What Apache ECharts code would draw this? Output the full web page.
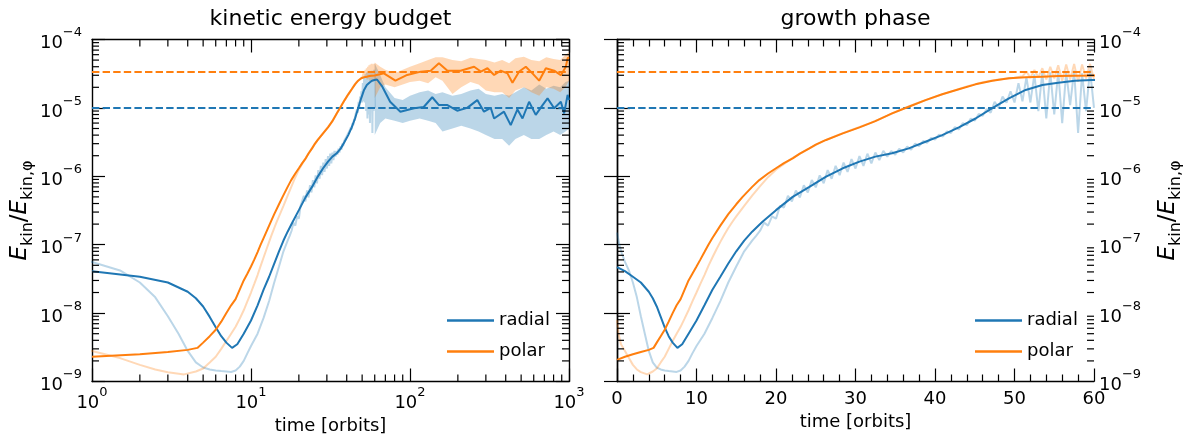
<!DOCTYPE html>
<html><head><meta charset="utf-8">
<script src="https://cdn.jsdelivr.net/npm/echarts@6/dist/echarts.min.js"></script>
<style>html,body{margin:0;padding:0;background:#fff}#c{width:1190px;height:441px}</style>
</head><body><div id="c"></div>
<script>
const FONT = 'DejaVu Sans';
const BLUE = '#1f77b4', ORANGE = '#ff7f0e';
const LBLUE = 'rgba(31,119,180,0.3)', LORANGE = 'rgba(255,127,14,0.3)';

// ---- smoothed radial (dark blue) ----
const tRadial = [0,1,2,3,4,4.5,5,5.5,6,6.5,7,7.6,8.2,9,10,11,12,13,14,15,16,17,18.3,20,22.1,24.2,26.3,28.4,30.5,32.5,34.6,36.7,38.8,40.9,43,45.1,47.2,49.3,51.4,53.5,55.5,57.6,59.7,62,67,75,87,106,122,138,152,172,198,229,265,292,322,338,390,430,474,510,561,618,682,733,807,889,932,980,1000];
const radial = [4.7e-8,4.1e-8,3.4e-8,2.8e-8,2.05e-8,1.65e-8,1.25e-8,8.8e-9,6.2e-9,4.6e-9,3.7e-9,3.1e-9,3.5e-9,5.0e-9,7.8e-9,1.3e-8,2.2e-8,3.4e-8,5.3e-8,8.0e-8,1.15e-7,1.55e-7,2.17e-7,3.2e-7,5.0e-7,7.0e-7,9.9e-7,1.31e-6,1.64e-6,1.94e-6,2.17e-6,2.56e-6,3.2e-6,4.0e-6,5.2e-6,7.0e-6,9.9e-6,1.38e-5,1.83e-5,2.16e-5,2.33e-5,2.5e-5,2.56e-5,2.6e-5,2.04e-5,1.23e-5,8.8e-6,9.9e-6,1.03e-5,1.43e-5,1.1e-5,1.1e-5,9.1e-6,1.0e-5,1.3e-5,8.8e-6,1.0e-5,7.0e-6,8.8e-6,5.6e-6,9.5e-6,7.0e-6,1.23e-5,7.9e-6,1.1e-5,1.38e-5,9.9e-6,1.23e-5,8.3e-6,1.55e-5,1.3e-5];

// ---- smoothed polar (dark orange) ----
const tPolar = [0,1,2,3,4,4.6,5,5.5,6,6.5,7,7.5,8,9,9.5,10,10.5,11,11.5,12,13,14,15,15.8,17,17.9,19,20,21,22.1,23,24.2,25,26.3,28.4,30.5,32.5,34.6,36.7,38.8,40.9,43,45.1,47.2,49.3,51.4,53.5,55.5,57.6,60,68.5,81,96,117,135,152,172,208,253,279,307,338,372,410,441,486,535,589,649,715,807,889,955,980,1000];
const polar = [2.07e-9,2.3e-9,2.5e-9,2.7e-9,2.9e-9,3.1e-9,3.7e-9,4.6e-9,5.7e-9,7.5e-9,1.0e-8,1.3e-8,1.6e-8,3.0e-8,3.8e-8,4.8e-8,6.1e-8,7.8e-8,1.0e-7,1.25e-7,1.9e-7,2.8e-7,3.9e-7,5.0e-7,7.0e-7,8.8e-7,1.1e-6,1.31e-6,1.56e-6,1.83e-6,2.15e-6,2.56e-6,2.9e-6,3.4e-6,4.25e-6,5.2e-6,6.4e-6,8.3e-6,1.04e-5,1.3e-5,1.58e-5,1.87e-5,2.21e-5,2.5e-5,2.71e-5,2.8e-5,2.86e-5,2.92e-5,2.95e-5,2.98e-5,3.2e-5,2.5e-5,3.03e-5,3.39e-5,3.5e-5,4.5e-5,3.5e-5,3.5e-5,4.0e-5,3.4e-5,3.8e-5,3.03e-5,3.5e-5,3.2e-5,2.33e-5,3.4e-5,4.0e-5,3.2e-5,2.5e-5,3.8e-5,3.5e-5,3.0e-5,4.0e-5,5.3e-5,5.5e-5];

// ---- raw radial (light blue), t <= 60 ----
const tRadialRaw = [0,0.3,0.6,1,1.5,2,2.5,3,3.5,4,4.5,5,5.5,6,6.5,7,7.5,8,8.5,9,9.5,10,11,12,13,14,15,16,17,17.5,18,
  18.5,19,19.5,20,20.5,21,21.5,22,22.5,23,23.5,24,24.5,25,25.5,26,26.5,27,27.5,28,28.5,29,29.5,30,30.5,31,31.5,32,32.5,33,33.5,34,34.5,35,35.5,36,36.5,37,37.5,38,38.5,39,39.5,40,40.5,41,41.5,42,42.5,43,43.5,44,44.5,45,45.5,46,46.5,47,47.5,48,48.5,49,49.5,50,50.5,51,51.5,52,52.5,53,53.5,54,54.5,55,55.5,56,56.5,57,57.5,58,58.5,59,59.5,60];
const radialRaw = [1.5e-7,1.0e-7,7.5e-8,5.6e-8,4.2e-8,2.8e-8,1.7e-8,9.0e-9,5.0e-9,2.8e-9,1.9e-9,1.6e-9,1.5e-9,1.45e-9,1.42e-9,1.4e-9,1.38e-9,1.45e-9,1.65e-9,2.0e-9,2.6e-9,3.3e-9,5.0e-9,8.5e-9,1.5e-8,2.8e-8,4.8e-8,8.0e-8,1.15e-7,1.35e-7,1.6e-7,
  2.1e-7,1.9e-7,2.6e-7,2.4e-7,3.7e-7,3.5e-7,5.2e-7,4.3e-7,6.2e-7,4.9e-7,7.4e-7,5.8e-7,8.8e-7,6.9e-7,1.03e-6,7.9e-7,1.23e-6,9.2e-7,1.42e-6,1.04e-6,1.59e-6,1.16e-6,1.78e-6,1.3e-6,1.97e-6,1.42e-6,2.14e-6,1.55e-6,2.23e-6,1.73e-6,2.35e-6,1.94e-6,2.34e-6,2.07e-6,2.53e-6,2.23e-6,2.73e-6,2.44e-6,3.01e-6,2.77e-6,3.28e-6,3.09e-6,3.65e-6,3.45e-6,4.08e-6,3.82e-6,4.55e-6,4.29e-6,5.25e-6,4.85e-6,6.0e-6,5.6e-6,6.97e-6,6.5e-6,8.15e-6,7.65e-6,9.65e-6,8.5e-6,1.23e-5,1.01e-5,1.46e-5,1.19e-5,1.75e-5,1.2e-5,2.3e-5,1.25e-5,2.8e-5,1.2e-5,3.1e-5,9e-6,3.3e-5,7e-6,3.3e-5,8e-6,3.4e-5,6e-6,3.3e-5,1.1e-5,3.5e-5,4.3e-6,3.2e-5,9e-6,3.6e-5,1.0e-5];

// ---- raw polar (light orange), t <= 60 ----
const tPolarRaw = [0,0.2,0.5,1,1.5,2,2.5,3,3.8,4.5,5,5.5,6,6.5,7,7.5,8,8.5,9,9.5,10,10.5,11,11.5,12,12.5,13,13.5,14,14.5,15,16,17,18,19,20,22,24,26,28,30,32,34,36,38,40,42,44,46,48,50,51,51.5,52,52.5,53,53.5,54,54.5,55,55.5,56,56.5,57,57.5,58,58.5,59,59.5,60];
const polarRaw = [8e-9,5e-9,3.5e-9,2.8e-9,2.2e-9,1.75e-9,1.5e-9,1.37e-9,1.27e-9,1.4e-9,1.55e-9,1.9e-9,2.3e-9,3.0e-9,3.9e-9,5.0e-9,6.3e-9,8.3e-9,1.1e-8,1.5e-8,2.0e-8,2.7e-8,3.6e-8,4.9e-8,6.5e-8,8.5e-8,1.1e-7,1.4e-7,1.75e-7,2.15e-7,2.6e-7,3.7e-7,5.2e-7,7.2e-7,9.7e-7,1.25e-6,1.83e-6,2.5e-6,3.3e-6,4.1e-6,5.0e-6,6.1e-6,7.7e-6,9.8e-6,1.2e-5,1.45e-5,1.73e-5,2.05e-5,2.38e-5,2.6e-5,2.75e-5,2.9e-5,3.4e-5,2.75e-5,3.6e-5,2.8e-5,3.8e-5,2.6e-5,4.0e-5,2.7e-5,4.2e-5,2.5e-5,4.3e-5,2.6e-5,4.4e-5,2.4e-5,4.3e-5,2.7e-5,4.4e-5,2.6e-5];

// ---- raw envelopes beyond t = 60 (saturated phase) ----
const tBand = [60,65,70,80,90,100,115,130,145,160,185,210,240,270,300,340,380,420,460,520,580,650,720,800,880,950,1000];
const radialLo = [4e-6,6e-6,7e-6,6.5e-6,6e-6,6.5e-6,7e-6,6.5e-6,6e-6,4.5e-6,5e-6,5.5e-6,5e-6,4.5e-6,4e-6,3.5e-6,3.5e-6,2.8e-6,3.5e-6,4e-6,3.5e-6,3.5e-6,4e-6,4.5e-6,4e-6,4.5e-6,5e-6];
const radialHi = [4.5e-5,3e-5,2e-5,1.4e-5,1.3e-5,1.5e-5,1.7e-5,1.8e-5,1.6e-5,1.7e-5,1.5e-5,1.6e-5,1.8e-5,1.9e-5,1.6e-5,1.5e-5,1.6e-5,1.5e-5,1.7e-5,2e-5,1.8e-5,2.2e-5,1.9e-5,2.1e-5,2e-5,2.4e-5,2.5e-5];
const polarLo = [1.4e-5,2e-5,2.2e-5,2e-5,2.2e-5,2.4e-5,2.5e-5,2.3e-5,2.8e-5,2.5e-5,1.6e-5,2e-5,2.4e-5,2.2e-5,1.8e-5,1.7e-5,1.7e-5,1.4e-5,1.8e-5,2e-5,1.7e-5,1.5e-5,2e-5,1.9e-5,1.7e-5,2e-5,2.5e-5];
const polarHi = [4.6e-5,4e-5,3.6e-5,3.2e-5,3.6e-5,4e-5,4.5e-5,5e-5,5.5e-5,5.5e-5,5e-5,4.8e-5,5.4e-5,5.2e-5,5e-5,4.6e-5,5e-5,4.5e-5,5.3e-5,5.6e-5,5e-5,4.8e-5,5.5e-5,5.2e-5,5e-5,6e-5,6.5e-5];

// ---- reference levels ----
const radialRef = 1e-5;
const polarRef = 3.35e-5;

// ---- axis ranges / ticks ----
const xLogRange = [1, 1000];
const xLinRange = [0, 60];
const yRange = [1e-9, 1e-4];
const minorMult = [2,3,4,5,6,7,8,9];
const yDecades = [-9,-8,-7,-6,-5];
const xDecades = [0,1,2];
const minorY = [], minorXLog = [];
yDecades.forEach(d => minorMult.forEach(m => minorY.push(m * Math.pow(10, d))));
xDecades.forEach(d => minorMult.forEach(m => minorXLog.push(m * Math.pow(10, d))));

const seriesNames = ['radial', 'polar'];
const titles = ['kinetic energy budget', 'growth phase'];
const xName = 'time [orbits]';

function pairs(t, v, minT) {
  const out = [];
  for (let i = 0; i < t.length; i++) if (t[i] > minT) out.push([t[i], v[i]]);
  return out;
}
function supLabel(v) {
  const e = Math.round(Math.log10(v));
  return '{b|10}{s|' + (e < 0 ? '\u2212' + (-e) : e) + '}';
}
const supRich = {
  b: { fontFamily: FONT, fontSize: 18, color: '#000', lineHeight: 26, verticalAlign: 'bottom' },
  s: { fontFamily: FONT, fontSize: 13, color: '#000', lineHeight: 26, verticalAlign: 'top' }
};
const nameRich = {
  e: { fontFamily: FONT, fontSize: 23, fontStyle: 'italic', color: '#000', lineHeight: 32, verticalAlign: 'middle' },
  sub: { fontFamily: FONT, fontSize: 16, color: '#000', lineHeight: 32, verticalAlign: 'bottom' },
  sl: { fontFamily: FONT, fontSize: 23, color: '#000', lineHeight: 32, verticalAlign: 'middle' }
};
const yName = '{e|E}{sub|kin}{sl|/}{e|E}{sub|kin,\u03c6}';

const AX = { lineStyle: { color: '#000', width: 1.4 } };
const TICK = { show: true, inside: true, length: 13, lineStyle: { color: '#000', width: 1.2 } };
const NAMESTYLE = { fontFamily: FONT, fontSize: 18, color: '#000' };

function logX(grid, pos, labels) {
  return {
    gridIndex: grid, type: 'log', logBase: 10, min: xLogRange[0], max: xLogRange[1], position: pos,
    axisLine: Object.assign({ show: true }, AX), axisTick: TICK, splitLine: { show: false },
    axisLabel: labels ? { show: true, margin: 5, formatter: supLabel, rich: supRich } : { show: false },
    name: labels ? xName : '', nameLocation: 'middle', nameGap: 19, nameTextStyle: NAMESTYLE
  };
}
function linX(grid, pos, labels) {
  return {
    gridIndex: grid, type: 'value', min: xLinRange[0], max: xLinRange[1], interval: 10, position: pos,
    axisLine: Object.assign({ show: true }, AX), axisTick: TICK,
    minorTick: { show: true, splitNumber: 5, length: 7, lineStyle: { color: '#000', width: 1.2 } },
    splitLine: { show: false }, minorSplitLine: { show: false },
    axisLabel: labels ? { show: true, margin: 9, fontFamily: FONT, fontSize: 18, color: '#000' } : { show: false },
    name: labels ? xName : '', nameLocation: 'middle', nameGap: 19, nameTextStyle: NAMESTYLE
  };
}
function logY(grid, pos, labels) {
  return {
    gridIndex: grid, type: 'log', logBase: 10, min: yRange[0], max: yRange[1], position: pos,
    axisLine: Object.assign({ show: true }, AX), axisTick: TICK, splitLine: { show: false },
    axisLabel: labels ? { show: true, margin: pos === 'left' ? 10 : 5, formatter: supLabel, rich: supRich } : { show: false },
    name: labels ? yName : '', nameLocation: 'middle', nameRotate: 90, nameGap: pos === 'left' ? 56 : 58,
    nameTextStyle: { rich: nameRich }
  };
}

function tickSeries(xi, yi, vals, dir, ref) {
  return {
    type: 'custom', xAxisIndex: xi, yAxisIndex: yi, silent: true, clip: false, z: 10,
    data: vals.map(v => dir === 'x' ? [v, ref] : [ref, v]),
    renderItem: function (params, api) {
      const cs = params.coordSys;
      const st = { stroke: '#000', lineWidth: 1.2 };
      if (dir === 'x') {
        const p = api.coord([api.value(0), ref]);
        return { type: 'group', children: [
          { type: 'line', shape: { x1: p[0], y1: cs.y + cs.height, x2: p[0], y2: cs.y + cs.height - 7 }, style: st },
          { type: 'line', shape: { x1: p[0], y1: cs.y, x2: p[0], y2: cs.y + 7 }, style: st }
        ]};
      } else {
        const p = api.coord([ref, api.value(1)]);
        return { type: 'group', children: [
          { type: 'line', shape: { x1: cs.x, y1: p[1], x2: cs.x + 7, y2: p[1] }, style: st },
          { type: 'line', shape: { x1: cs.x + cs.width, y1: p[1], x2: cs.x + cs.width - 7, y2: p[1] }, style: st }
        ]};
      }
    }
  };
}

function bandSeries(xi, yi, t, lo, hi, fill) {
  return {
    type: 'custom', xAxisIndex: xi, yAxisIndex: yi, silent: true, z: 1,
    data: t.map((v, i) => [v, lo[i], hi[i]]),
    renderItem: function (params, api) {
      if (params.dataIndex !== 0) return null;
      const pts = [];
      for (let i = 0; i < t.length; i++) pts.push(api.coord([t[i], hi[i]]));
      for (let i = t.length - 1; i >= 0; i--) pts.push(api.coord([t[i], lo[i]]));
      return { type: 'polygon', shape: { points: pts }, style: { fill: fill } };
    }
  };
}

function lineSeries(name, xi, yi, data, color, z, dashed) {
  return {
    type: 'line', name: name, xAxisIndex: xi, yAxisIndex: yi, data: data,
    showSymbol: false, symbol: 'none', clip: true, z: z,
    lineStyle: { color: color, width: 2, type: dashed ? [7.4, 3.2] : 'solid' }, itemStyle: { color: color },
    emphasis: { disabled: true }, silent: true
  };
}

function panelSeries(xi, yi, minT, withBand, xr, xRef) {
  const out = [];
  if (withBand) {
    out.push(bandSeries(xi, yi, tBand, radialLo, radialHi, LBLUE));
    out.push(bandSeries(xi, yi, tBand, polarLo, polarHi, LORANGE));
  }
  out.push(lineSeries('radial raw', xi, yi, pairs(tRadialRaw, radialRaw, minT), LBLUE, 2));
  out.push(lineSeries('polar raw', xi, yi, pairs(tPolarRaw, polarRaw, minT), LORANGE, 2));
  out.push(lineSeries('radial ref', xi, yi, [[xr[0], radialRef], [xr[1], radialRef]], BLUE, 3, true));
  out.push(lineSeries('polar ref', xi, yi, [[xr[0], polarRef], [xr[1], polarRef]], ORANGE, 3, true));
  out.push(lineSeries(seriesNames[0], xi, yi, pairs(tRadial, radial, minT), BLUE, 4));
  out.push(lineSeries(seriesNames[1], xi, yi, pairs(tPolar, polar, minT), ORANGE, 4));
  out.push(tickSeries(xi, yi, minorY, 'y', xRef));
  return out;
}

const series = [].concat(
  panelSeries(0, 0, 0, true, xLogRange, 10),
  [tickSeries(0, 0, minorXLog, 'x', 1e-6)],
  panelSeries(2, 2, -1, false, xLinRange, 30)
);

function legendAt(left) {
  return {
    data: seriesNames, orient: 'vertical', left: left, top: 305, icon: 'rect',
    itemWidth: 47, itemHeight: 2.5, itemGap: 10, selectedMode: false,
    textStyle: { fontFamily: FONT, fontSize: 18, color: '#000', lineHeight: 21 }
  };
}

const chart = echarts.init(document.getElementById('c'), null, { renderer: 'canvas' });
chart.setOption({
  animation: false,
  backgroundColor: '#fff',
  grid: [
    { left: 92, top: 39.5, width: 477, height: 342, outerBoundsMode: 'none' },
    { left: 617, top: 39.5, width: 477, height: 342, outerBoundsMode: 'none' }
  ],
  xAxis: [logX(0, 'bottom', true), logX(0, 'top', false), linX(1, 'bottom', true), linX(1, 'top', false)],
  yAxis: [logY(0, 'left', true), logY(0, 'right', false), logY(1, 'left', false), logY(1, 'right', true)],
  legend: [legendAt(442), legendAt(970)],
  graphic: [
    { type: 'text', x: 330.5, y: 19, style: { text: titles[0], fontFamily: FONT, fontSize: 22, fill: '#000', align: 'center', verticalAlign: 'middle' } },
    { type: 'text', x: 855.5, y: 19, style: { text: titles[1], fontFamily: FONT, fontSize: 22, fill: '#000', align: 'center', verticalAlign: 'middle' } }
  ],
  series: series
});
</script>
</body></html>
